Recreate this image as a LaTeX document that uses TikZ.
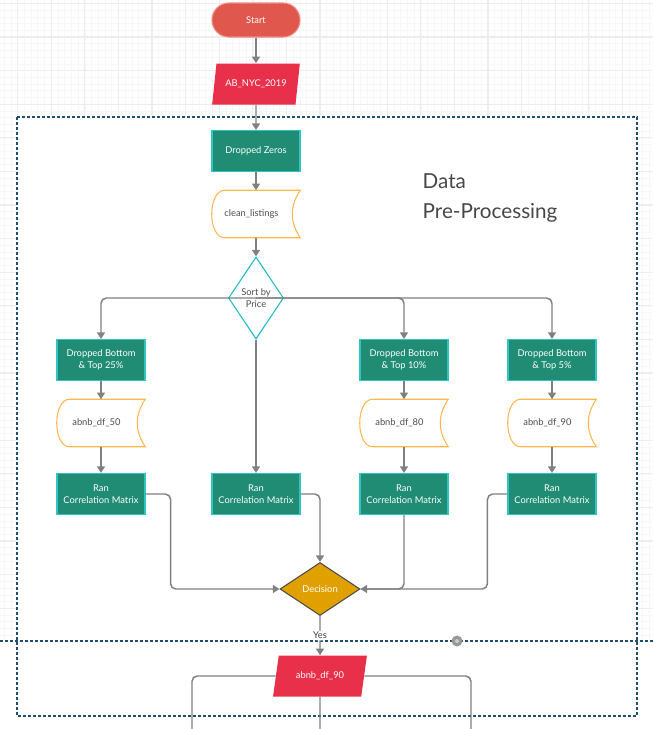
\documentclass[tikz,border=0pt]{standalone}
\usepackage{fontspec}
\setmainfont{Lato}
\usepackage{tikz}
\usetikzlibrary{shapes.geometric,arrows.meta,calc}
\definecolor{startred}{HTML}{E0584D}
\definecolor{startline}{HTML}{F2887E}
\definecolor{iored}{HTML}{E9304A}
\definecolor{procteal}{HTML}{1F8C73}
\definecolor{procline}{HTML}{2EC4C4}
\definecolor{storeline}{HTML}{FFB74D}
\definecolor{sortline}{HTML}{1ABBC4}
\definecolor{decgold}{HTML}{E0A000}
\definecolor{connGray}{HTML}{808080}
\definecolor{regionblue}{HTML}{1F4E6E}
\tikzset{
  >={Triangle[width=6pt,length=5pt]},
  every node/.style={font=\fontsize{7}{8.6}\selectfont,align=center},
  startstop/.style={rectangle,rounded corners=12.75pt,minimum width=66pt,
    minimum height=25.5pt,fill=startred,draw=startline,line width=0.8pt,text=white},
  io/.style={trapezium,trapezium left angle=72,trapezium right angle=108,
    trapezium stretches=true,minimum width=66pt,minimum height=30.75pt,
    fill=iored,text=white,inner sep=1pt},
  process/.style={rectangle,minimum width=66pt,minimum height=30.75pt,
    fill=procteal,draw=procline,line width=0.8pt,text=white},
  datastore/.style={rectangle,minimum width=66pt,minimum height=35.25pt,
    text=black!70},
  decision/.style={diamond,inner sep=0pt,fill=decgold,draw=black!70,
    line width=0.8pt,text=white},
  conn/.style={draw=connGray,line width=1.1pt,rounded corners=4pt},
  region/.style={draw=regionblue,line width=1.1pt,dash pattern=on 2.25pt off 1.5pt},
}
\newcommand{\storeshape}[1]{%
  \draw[storeline,line width=0.8pt,fill=white]
    ($(#1.north west)+(9.75pt,0)$) -- (#1.north east)
    .. controls +(-8pt,-12pt) and +(-8pt,12pt) .. (#1.south east)
    -- ($(#1.south west)+(9.75pt,0)$)
    .. controls +(-13pt,0) and +(-13pt,0) .. cycle;}
\begin{document}
\begin{tikzpicture}[x=0.75pt,y=-0.75pt]
  \useasboundingbox (0,0) rectangle (653,729);
  % background grid
  \begin{scope}[shift={(17.6,3.4)}]
    \draw[black!3,line width=0.4pt,step=5.04pt] (-20,-10) grid (640,730);
    \draw[black!7,line width=0.8pt,step=25.2pt] (-20,-10) grid (640,730);
  \end{scope}
  \fill[white] (17,117) rectangle (637,716);
  \fill[white] (0,641) rectangle (653,729);

  % regions
  \draw[region] (17,117) rectangle (637,716);
  \draw[region] (0,641) -- (653,641);
  \fill[black!40] (457,641) circle (5.5);
  \fill[black!20] (457,641) circle (2);

  \node[font=\fontsize{15.5}{22.5}\selectfont,text=black!72,align=left,anchor=north west]
    (title) at (418,169) {Data\\Pre-Processing};

  % nodes
  \node[startstop] (start) at (256,20) {Start};
  \node[io] (ab) at (256,84) {AB\_NYC\_2019};
  \node[process] (zeros) at (256,151) {Dropped Zeros};
  \node[datastore] (clean) at (256,214) {};
  \node[decision,fill=white,draw=sortline,minimum width=41.25pt,minimum height=61.5pt]
    (sort) at (256,298) {};
  \node[process] (d25) at (101,360) {Dropped Bottom\\\& Top 25\%};
  \node[process] (d10) at (404,360) {Dropped Bottom\\\& Top 10\%};
  \node[process] (d5)  at (552,360) {Dropped Bottom\\\& Top 5\%};
  \node[datastore] (df50) at (101,423) {};
  \node[datastore] (df80) at (404,423) {};
  \node[datastore] (df90) at (552,423) {};
  \node[process] (ran25) at (101,494) {Ran\\Correlation Matrix};
  \node[process] (ranmid) at (256,494) {Ran\\Correlation Matrix};
  \node[process] (ran10) at (404,494) {Ran\\Correlation Matrix};
  \node[process] (ran5) at (552,494) {Ran\\Correlation Matrix};
  \node[decision,minimum width=60pt,minimum height=39.75pt] (dec) at (320,589) {Decision};
  \node[io,minimum width=70.5pt] (out) at (320,676) {abnb\_df\_90};
  \coordinate (lowL) at (192,729);
  \coordinate (lowM) at (320,729);
  \coordinate (lowR) at (471,729);

  % data shapes
  \foreach \n in {clean,df50,df80,df90} \storeshape{\n};
  \node[text=black!70] (cleantxt) at ($(clean)+(-3.4pt,0)$) {clean\_listings};
  \node[text=black!70] (df50txt) at ($(df50)+(-3.4pt,0)$) {abnb\_df\_50};
  \node[text=black!70] (df80txt) at ($(df80)+(-3.4pt,0)$) {abnb\_df\_80};
  \node[text=black!70] (df90txt) at ($(df90)+(-3.4pt,0)$) {abnb\_df\_90};
  \node[text=black!70] (sorttxt) at (sort) {Sort by\\[1pt]Price};

  % connectors
  \draw[conn,->] (start) -- (ab);
  \draw[conn,->] (ab) -- (zeros);
  \draw[conn,->] (zeros) -- (clean);
  \draw[conn,->] (clean) -- (sort);
  \draw[conn,->] (sort.center) -| (d25);
  \draw[conn,->] (sort.center) -| (d10);
  \draw[conn,->] (sort.center) -| (d5);
  \draw[conn,->] (sort.south) -- (ranmid);
  \foreach \a/\b in {d25/df50,d10/df80,d5/df90,df50/ran25,df80/ran10,df90/ran5}
    \draw[conn,->] (\a) -- (\b);
  \draw[conn,->] (ran25.east) -- ++(25,0) |- (dec.west);
  \draw[conn,->] (ranmid.east) -| (dec.north);
  \draw[conn,->] (ran10.south) |- (dec.east);
  \draw[conn] (ran5.west) -- ++(-20,0) |- (dec.east);
  \draw[conn,->] (dec.south) -- node[fill=white,inner sep=1pt,text=black!75] (yes) {Yes} (out.north);
  \draw[conn] (out.west) -| (lowL);
  \draw[conn] (out.east) -| (lowR);
  \draw[conn] (out.south) -- (lowM);
\end{tikzpicture}
\end{document}
